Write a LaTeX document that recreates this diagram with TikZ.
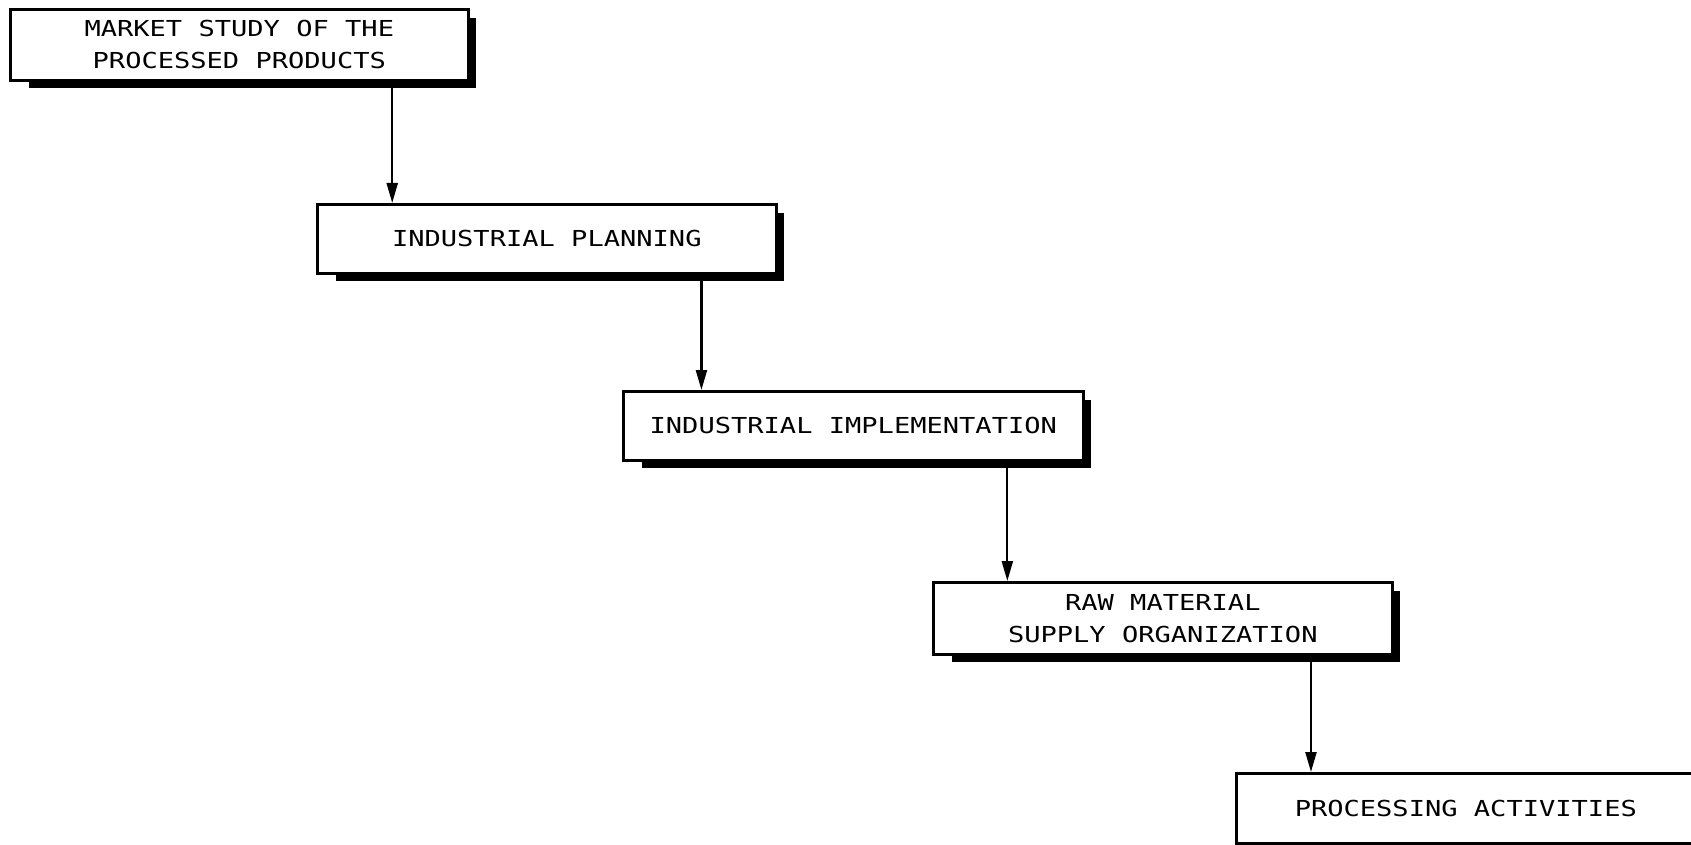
\documentclass[tikz,border=0pt]{standalone}
\usepackage{fontspec}
\usetikzlibrary{arrows.meta,calc,backgrounds}
\newfontfamily\plotfont[FakeStretch=1.23]{DejaVu Sans Mono}
\tikzset{
  stagebox/.style={draw=black, fill=white, line width=2.6pt, anchor=north west,
    inner sep=0pt, align=center, font=\plotfont\fontsize{22}{32}\selectfont},
  shadowfill/.style={fill=black},
  flow/.style={line width=2.2pt, -{Triangle[length=20pt,width=11pt]}},
}
\begin{document}
\begin{tikzpicture}[x=1pt,y=1pt]
  \useasboundingbox (0,0) rectangle (1691,-845);
  % process stages, stepping down to the right
  \node[stagebox, minimum width=458pt, minimum height=71pt] (b1) at (9,-8)
    {MARKET STUDY OF THE\\PROCESSED PRODUCTS};
  \node[stagebox, minimum width=459pt, minimum height=69pt] (b2) at (316,-203)
    {INDUSTRIAL PLANNING};
  \node[stagebox, minimum width=460pt, minimum height=69pt] (b3) at (622,-390)
    {INDUSTRIAL IMPLEMENTATION};
  \node[stagebox, minimum width=459pt, minimum height=72pt] (b4) at (932,-581)
    {RAW MATERIAL\\SUPPLY ORGANIZATION};
  \node[stagebox, minimum width=459pt, minimum height=70pt] (b5) at (1235,-772)
    {PROCESSING ACTIVITIES};
  % offset shadows behind each box
  \begin{scope}[on background layer]
    \foreach \b in {b1,b2,b3,b4,b5}
      \fill[shadowfill] ([xshift=20pt,yshift=-6pt]\b.south west)
        rectangle ([xshift=6pt,yshift=-10pt]\b.north east);
  \end{scope}
  % connectors
  \draw[flow] ($(b1.south west)!0.832!(b1.south east)$) coordinate (t1) -- (t1 |- b2.north);
  \draw[flow] ($(b2.south west)!0.835!(b2.south east)$) coordinate (t2) -- (t2 |- b3.north);
  \draw[flow] ($(b3.south west)!0.833!(b3.south east)$) coordinate (t3) -- (t3 |- b4.north);
  \draw[flow] ($(b4.south west)!0.821!(b4.south east)$) coordinate (t4) -- (t4 |- b5.north);
\end{tikzpicture}
\end{document}
